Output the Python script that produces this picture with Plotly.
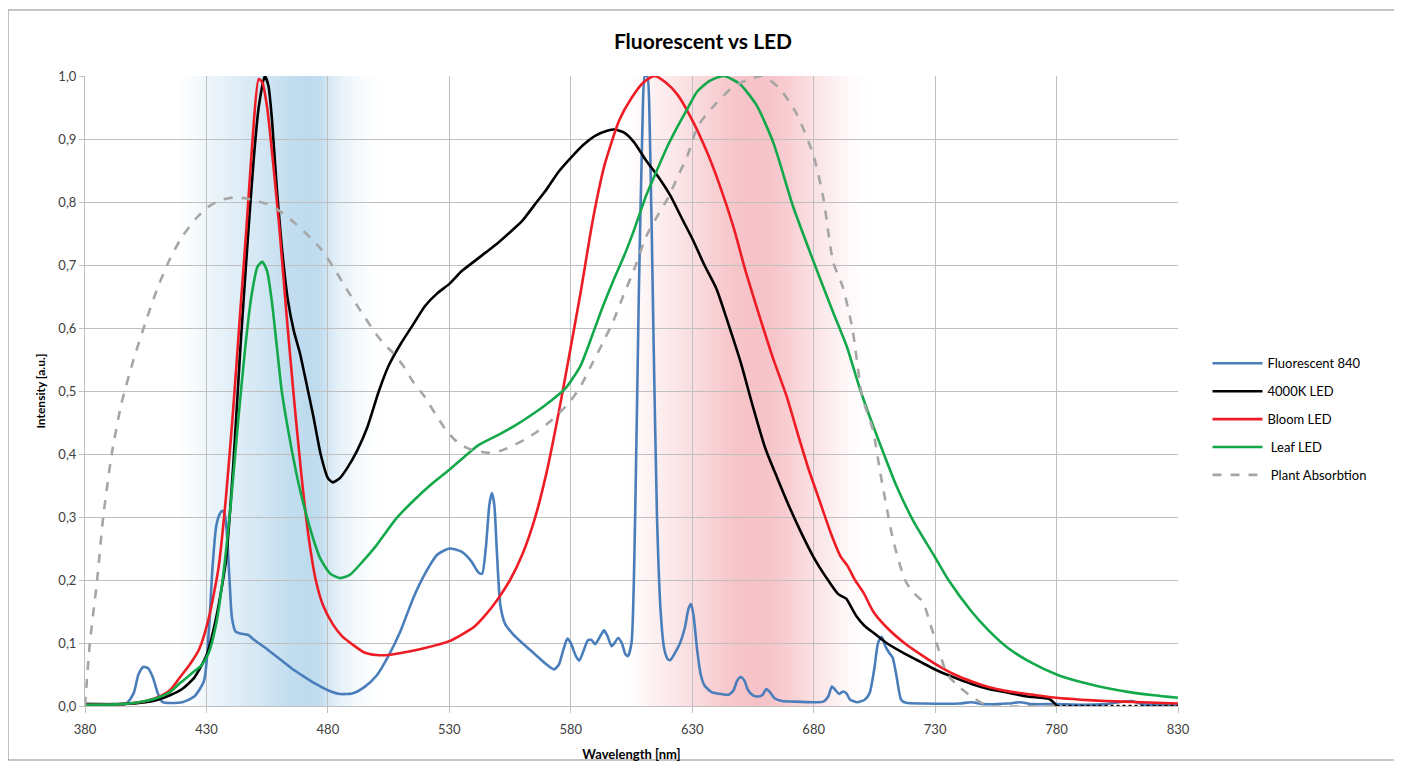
import plotly.graph_objects as go

# ---------------- data ----------------
fl_x = [380, 390, 397, 400, 402, 404, 406, 408, 410, 412, 420, 425, 429, 431, 432.5, 434, 435.5, 436.5,
        437.5, 438.5, 439.5, 440.5, 442, 444, 447, 450, 455, 460, 465, 470, 475, 480, 485, 490, 495,
        500, 505, 510, 515, 520, 525, 530, 535, 539, 542, 543.5, 545, 546.5, 547.5, 548.5, 549.5, 551,
        553, 556, 560, 565, 570, 573, 575, 577, 578.6, 580, 582, 583.5, 585, 587, 588.5, 590, 592,
        593.7, 595, 596.8, 598, 599.5, 601, 602.5, 603.5, 605, 606.5, 608, 609.5, 610.5, 611.5, 612.5,
        614, 615.5, 617, 618.5, 620, 621, 623, 625, 627, 628.5, 629.5, 630.5, 632, 633.5, 635, 638,
        642, 645, 647, 648.5, 650, 651.5, 653, 655, 657, 659, 660.5, 662, 664, 667, 672, 680, 684, 686,
        687.5, 689, 690.5, 692, 693.5, 695, 698, 701, 703, 705, 706.5, 708, 709.5, 711, 712.5, 714,
        716, 718, 725, 740, 745, 750, 760, 765, 770, 780, 790, 800, 811, 815, 830]
fl_y = [0.003, 0.003, 0.004, 0.02, 0.05, 0.062, 0.06, 0.045, 0.02, 0.006, 0.006, 0.015, 0.04, 0.12,
        0.22, 0.285, 0.305, 0.31, 0.305, 0.27, 0.2, 0.14, 0.118, 0.115, 0.113, 0.104, 0.09, 0.075,
        0.06, 0.047, 0.035, 0.025, 0.019, 0.02, 0.03, 0.048, 0.08, 0.12, 0.17, 0.21, 0.24, 0.25, 0.245,
        0.23, 0.212, 0.21, 0.25, 0.32, 0.338, 0.32, 0.25, 0.16, 0.13, 0.115, 0.1, 0.083, 0.066, 0.058,
        0.065, 0.09, 0.107, 0.1, 0.08, 0.072, 0.085, 0.104, 0.105, 0.098, 0.11, 0.12, 0.112, 0.095,
        0.1, 0.108, 0.1, 0.082, 0.079, 0.1, 0.3, 0.65, 0.92, 1.0, 1.0, 0.92, 0.6, 0.3, 0.15, 0.09,
        0.074, 0.073, 0.085, 0.1, 0.125, 0.155, 0.162, 0.145, 0.09, 0.05, 0.033, 0.022, 0.019, 0.018,
        0.025, 0.04, 0.046, 0.04, 0.025, 0.017, 0.015, 0.018, 0.027, 0.022, 0.012, 0.008, 0.007, 0.006,
        0.007, 0.015, 0.031, 0.025, 0.019, 0.023, 0.02, 0.01, 0.006, 0.01, 0.02, 0.06, 0.1, 0.11,
        0.095, 0.085, 0.077, 0.05, 0.01, 0.005, 0.004, 0.004, 0.006, 0.003, 0.004, 0.006, 0.003, 0.003,
        0.002, 0.003, 0.008, 0.003, 0.002]

led4k_x = [380, 395, 405, 410, 415, 420, 425, 430, 434, 438, 441, 444, 447, 449.5, 451.5, 454, 455.5,
           457, 459, 461, 463.5, 466, 468.5, 471, 474, 477, 480, 482, 485, 488, 492, 496, 501, 505, 510,
           515, 520, 525, 530, 535, 540, 545, 550, 555, 560, 565, 570, 575, 580, 585, 590, 595, 598, 602,
           606, 611, 616, 621, 626, 630, 635, 640, 645, 650, 655, 660, 665, 670, 675, 680, 685, 690,
           693.5, 695, 697.7, 701, 705, 710, 718, 724, 730, 738, 745, 752, 760, 768, 777, 779, 780]
led4k_y = [0.003, 0.003, 0.006, 0.01, 0.017, 0.027, 0.045, 0.08, 0.14, 0.23, 0.38, 0.57, 0.74, 0.87,
           0.95, 1.0, 0.985, 0.93, 0.82, 0.73, 0.645, 0.595, 0.56, 0.515, 0.46, 0.4, 0.362, 0.355,
           0.362, 0.378, 0.405, 0.44, 0.5, 0.54, 0.575, 0.605, 0.635, 0.655, 0.67, 0.69, 0.705, 0.72,
           0.735, 0.752, 0.77, 0.795, 0.82, 0.848, 0.87, 0.89, 0.905, 0.913, 0.915, 0.91, 0.895, 0.866,
           0.84, 0.81, 0.772, 0.742, 0.7, 0.662, 0.605, 0.545, 0.475, 0.41, 0.362, 0.316, 0.274, 0.236,
           0.205, 0.178, 0.17, 0.16, 0.142, 0.127, 0.115, 0.1, 0.082, 0.07, 0.058, 0.045, 0.035, 0.027,
           0.021, 0.015, 0.011, 0.005, 0.0]
led4k_tail_x = [780, 830]
led4k_tail_y = [0.0, 0.0]

bloom_x = [380, 395, 405, 410, 415, 419, 423, 427, 431, 435, 438, 441, 444, 446.5, 449, 451.5, 453,
           455, 457.5, 460, 463, 466, 469, 472, 475, 478, 482, 486, 490, 495, 500, 505, 510, 520, 530,
           540, 545, 550, 555, 560, 565, 570, 575, 580, 584, 589, 594, 600, 605, 610, 614.5, 619, 624,
           630, 636, 641, 647, 652, 658, 663, 669, 674, 678, 682.5, 687, 691, 694, 697, 700.5, 704.5,
           710, 718, 724, 730, 738, 745.7, 752, 759, 770, 780, 790, 800, 815, 830]
bloom_y = [0.002, 0.003, 0.008, 0.014, 0.025, 0.045, 0.065, 0.09, 0.14, 0.22, 0.33, 0.47, 0.63, 0.76,
           0.9, 0.995, 0.99, 0.95, 0.86, 0.76, 0.62, 0.49, 0.37, 0.27, 0.2, 0.16, 0.13, 0.11, 0.098,
           0.085, 0.081, 0.081, 0.084, 0.092, 0.103, 0.125, 0.145, 0.17, 0.2, 0.24, 0.295, 0.37, 0.465,
           0.57, 0.655, 0.77, 0.86, 0.93, 0.965, 0.99, 1.0, 0.99, 0.97, 0.93, 0.88, 0.83, 0.76, 0.69,
           0.615, 0.555, 0.49, 0.425, 0.375, 0.325, 0.275, 0.238, 0.222, 0.2, 0.18, 0.15, 0.125, 0.098,
           0.082, 0.067, 0.05, 0.038, 0.03, 0.024, 0.018, 0.013, 0.01, 0.008, 0.006, 0.004]

leaf_x = [380, 395, 405, 410, 415, 419, 424, 428, 431, 434, 437, 440, 443, 446, 448.5, 451, 453, 455,
          457, 459, 461, 464, 467, 470, 474, 477, 481, 485, 489, 494, 500, 508, 515, 522, 530, 536, 542,
          550, 557, 565, 572, 578, 584, 589, 593, 597.5, 602, 606, 611, 616, 620, 624, 628, 632, 637,
          643, 649.7, 656.6, 663.5, 671.6, 680, 688, 693.6, 699, 703, 707.3, 714, 721, 730, 735.5, 745,
          752, 760, 770, 780, 790, 800, 810, 820, 830]
leaf_y = [0.002, 0.003, 0.008, 0.013, 0.022, 0.036, 0.052, 0.065, 0.085, 0.13, 0.21, 0.32, 0.45, 0.57,
          0.65, 0.697, 0.705, 0.69, 0.64, 0.57, 0.5, 0.43, 0.37, 0.32, 0.265, 0.233, 0.21, 0.203, 0.208,
          0.228, 0.255, 0.297, 0.325, 0.35, 0.375, 0.395, 0.414, 0.43, 0.445, 0.465, 0.485, 0.505, 0.54,
          0.59, 0.632, 0.675, 0.715, 0.755, 0.81, 0.855, 0.89, 0.92, 0.948, 0.975, 0.992, 1.0, 0.987,
          0.953, 0.893, 0.792, 0.705, 0.625, 0.571, 0.504, 0.46, 0.416, 0.35, 0.294, 0.236, 0.2, 0.15,
          0.12, 0.092, 0.068, 0.05, 0.038, 0.029, 0.022, 0.017, 0.013]

absorb_x = [380, 382, 385, 387.5, 391, 395, 400, 405, 410, 415, 420, 426, 431, 436, 441, 446, 451, 455,
            460, 466, 471, 477, 482, 488, 493, 499, 503, 507, 511, 515, 520, 524, 529, 533, 537, 541,
            546, 551, 556, 561, 566, 571, 576, 580, 584, 589, 593, 597.5, 602, 606, 611, 616, 620, 624,
            628, 632, 635, 639, 646, 652, 659, 666, 673, 680, 684, 688, 692, 696, 700, 704.5, 707.3,
            712.8, 717.6, 721, 725, 728, 731, 735, 740, 745, 750, 752, 780]
absorb_y = [0.0, 0.1, 0.2, 0.3, 0.4, 0.48, 0.55, 0.61, 0.665, 0.71, 0.745, 0.775, 0.793, 0.803, 0.807,
            0.806, 0.801, 0.797, 0.786, 0.768, 0.75, 0.726, 0.698, 0.66, 0.63, 0.595, 0.575, 0.56, 0.54,
            0.515, 0.49, 0.465, 0.436, 0.42, 0.41, 0.405, 0.402, 0.405, 0.413, 0.423, 0.435, 0.45, 0.468,
            0.485, 0.507, 0.545, 0.575, 0.611, 0.655, 0.692, 0.745, 0.78, 0.806, 0.84, 0.873, 0.918, 0.935,
            0.953, 0.98, 0.993, 1.0, 0.98, 0.94, 0.873, 0.806, 0.705, 0.665, 0.598, 0.491, 0.437, 0.373,
            0.262, 0.2, 0.18, 0.165, 0.13, 0.095, 0.05, 0.03, 0.015, 0.003, 0.0, 0.0]

x_ticks = [380, 430, 480, 530, 580, 630, 680, 730, 780, 830]

# background band profiles (wavelength, relative strength)
blue_band = [(418, 0), (425, 0.12), (432, 0.3), (440, 0.45), (450, 0.62), (458, 0.8), (465, 0.95),
             (472, 1.0), (477, 0.95), (481, 0.6), (486, 0.35), (492, 0.15), (500, 0.03), (504, 0)]
red_band = [(603, 0), (610, 0.15), (620, 0.35), (630, 0.55), (640, 0.8), (648, 0.95), (656, 1.0),
            (663, 0.95), (670, 0.8), (678, 0.55), (685, 0.35), (692, 0.15), (700, 0.03), (704, 0)]


def interp(profile, x):
    for (x0, a0), (x1, a1) in zip(profile[:-1], profile[1:]):
        if x0 <= x <= x1:
            return a0 + (a1 - a0) * (x - x0) / (x1 - x0)
    return 0.0


def band_shapes(profile, rgb):
    shapes = []
    start, end = profile[0][0], profile[-1][0]
    step = 1.0
    x = start
    while x < end:
        a = interp(profile, x + step / 2)
        col = tuple(round(255 * (1 - a) + c * a) for c in rgb)
        shapes.append(dict(type="rect", xref="x", yref="y", x0=x, x1=x + step + 0.3, y0=0, y1=1,
                           fillcolor="rgb(%d,%d,%d)" % col, line=dict(width=0), layer="below"))
        x += step
    return shapes


FONT = "Lato, 'Open Sans', sans-serif"
fig = go.Figure()

common = dict(mode="lines", line_shape="spline")
fig.add_trace(go.Scatter(x=fl_x, y=fl_y, name="Fluorescent 840", legendgroup="a",
                         line=dict(color="#4a7ebb", width=2.6, smoothing=0.6), **common))
fig.add_trace(go.Scatter(x=led4k_x, y=led4k_y, name="4000K LED", legendgroup="b",
                         line=dict(color="#000000", width=2.6, smoothing=0.6), **common))
fig.add_trace(go.Scatter(x=led4k_tail_x, y=led4k_tail_y, showlegend=False, mode="lines",
                         line=dict(color="#000000", width=2.6, dash="dot")))
fig.add_trace(go.Scatter(x=bloom_x, y=bloom_y, name="Bloom LED", legendgroup="c",
                         line=dict(color="#ee1c24", width=2.6, smoothing=0.6), **common))
fig.add_trace(go.Scatter(x=leaf_x, y=leaf_y, name=" Leaf LED", legendgroup="d",
                         line=dict(color="#13a84a", width=2.6, smoothing=0.6), **common))
fig.add_trace(go.Scatter(x=absorb_x, y=absorb_y, name=" Plant Absorbtion", legendgroup="e",
                         line=dict(color="#a6a6a6", width=2.6, dash="dash", smoothing=0.6), **common))

shapes = band_shapes(blue_band, (190, 219, 238)) + band_shapes(red_band, (246, 194, 199))
shapes.append(dict(type="rect", xref="paper", yref="paper", x0=-0.0704, x1=1.1985, y0=-0.0857,
                   y1=1.1048, line=dict(color="#8c8c8c", width=1), fillcolor="rgba(0,0,0,0)",
                   layer="below"))

fig.update_layout(
    width=1390, height=756,
    margin=dict(l=77, r=220, t=68, b=58),
    paper_bgcolor="white", plot_bgcolor="white",
    separators=", ",
    font=dict(family=FONT, size=12, color="#404040"),
    title=dict(text="<b>Fluorescent vs LED</b>", x=0.5, xanchor="center", y=0.955, yanchor="middle",
               font=dict(family=FONT, size=21, color="#000000")),
    shapes=shapes,
    showlegend=True,
    legend=dict(x=1.027, xanchor="left", y=0.455, yanchor="middle", tracegroupgap=8,
                traceorder="grouped", itemwidth=50,
                font=dict(family=FONT, size=13, color="#000000"),
                bgcolor="rgba(0,0,0,0)"),
    xaxis=dict(range=[380, 830], tickvals=x_ticks, showgrid=True, gridcolor="#bfbfbf", gridwidth=1,
               showline=True, linecolor="#bfbfbf", linewidth=1, ticks="outside", ticklen=6,
               ticklabelstandoff=5, automargin=False,
               tickcolor="#bfbfbf", zeroline=False, tickfont=dict(size=13, color="#404040"),
               title=dict(text="<b>Wavelength [nm]</b>", font=dict(size=13, color="#000000"), standoff=14)),
    yaxis=dict(range=[0, 1.0], dtick=0.1, tickformat=".1f", showgrid=True, gridcolor="#bfbfbf",
               gridwidth=1, showline=True, linecolor="#bfbfbf", linewidth=1, ticks="outside",
               ticklen=5, tickcolor="#bfbfbf", zeroline=False, tickfont=dict(size=13, color="#404040"),
               automargin=False,
               title=dict(text="<b>Intensity [a.u.]</b>", font=dict(size=12, color="#000000"), standoff=10)),
)

fig.write_html("out.html")
